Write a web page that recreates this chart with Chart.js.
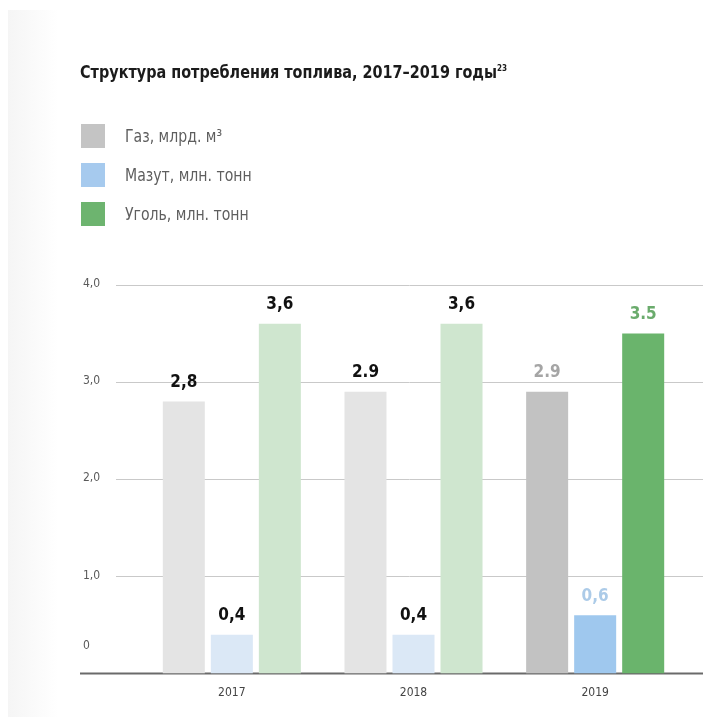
<!DOCTYPE html>
<html>
<head>
<meta charset="utf-8">
<script src="https://cdn.jsdelivr.net/npm/chart.js@4/dist/chart.umd.min.js"></script>
<style>
  body { margin: 0; width: 703px; height: 717px; overflow: hidden; position: relative; background: #fff;
         font-family: "DejaVu Sans Condensed", "DejaVu Sans", sans-serif; }
  .strip { position: absolute; left: 8px; top: 10px; bottom: 0; width: 50px;
           background: linear-gradient(to right, #f5f5f5, #fff); }
  canvas { position: absolute; left: 0; top: 0; }
  .title { position: absolute; left: 80px; top: 61px; margin: 0; font-size: 18px; font-weight: bold; color: #1b1b1b;
           transform: scaleX(0.89); transform-origin: left center; white-space: nowrap; }
  .title sup { font-size: 9px; }
  .legend { position: absolute; left: 81px; top: 124px; }
  .legend div { height: 39px; display: flex; align-items: flex-start; color: #5e5e5e; font-size: 17px; }
  .legend span.box { width: 24px; height: 24px; margin-right: 44px; }
  .legend span.txt { line-height: 24px; transform: scaleX(0.92); transform-origin: left center; white-space: nowrap;
                     margin-left: -24px; }
</style>
</head>
<body>
<div class="strip"></div>
<canvas id="chart" width="703" height="717"></canvas>
<div class="title">Структура потребления топлива, 2017–2019 годы<sup>23</sup></div>
<div class="legend" id="legend"></div>
<script>
// data
const years = ["2017", "2018", "2019"];
const seriesNames = ["Газ, млрд. м³", "Мазут, млн. тонн", "Уголь, млн. тонн"];
const gas = [2.8, 2.9, 2.9];
const mazut = [0.4, 0.4, 0.6];
const coal = [3.6, 3.6, 3.5];
const gasLabels = ["2,8", "2.9", "2.9"];
const mazutLabels = ["0,4", "0,4", "0,6"];
const coalLabels = ["3,6", "3,6", "3.5"];
const yTicks = [0, 1, 2, 3, 4];
const yTickLabels = ["0", "1,0", "2,0", "3,0", "4,0"];

const FONT = '"DejaVu Sans Condensed", "DejaVu Sans", sans-serif';
const legendColors = ["#c4c4c4", "#a6caee", "#6db46f"];

// legend
const lg = document.getElementById("legend");
seriesNames.forEach((n, i) => {
  const row = document.createElement("div");
  row.innerHTML = '<span class="box" style="background:' + legendColors[i] + '"></span><span class="txt">' + n + '</span>';
  lg.appendChild(row);
});

const linesPlugin = {
  id: "lines",
  beforeDatasetsDraw(chart) {
    const ctx = chart.ctx, y = chart.scales.y;
    ctx.save();
    ctx.strokeStyle = "#c9c9c9";
    ctx.lineWidth = 1;
    yTicks.forEach(v => {
      if (v === 0) return;
      const py = Math.round(y.getPixelForValue(v)) + 0.5;
      ctx.beginPath(); ctx.moveTo(116, py); ctx.lineTo(703, py); ctx.stroke();
    });
    ctx.strokeStyle = "#6a6a6a";
    ctx.lineWidth = 2;
    const p0 = y.getPixelForValue(0);
    ctx.beginPath(); ctx.moveTo(80, p0); ctx.lineTo(703, p0); ctx.stroke();
    // y tick labels
    ctx.fillStyle = "#5a5a5a";
    ctx.font = "12px " + FONT;
    ctx.textBaseline = "middle";
    ctx.textAlign = "left";
    yTicks.forEach((v, i) => {
      const off = v === 0 ? -28 : -1;
      ctx.fillText(yTickLabels[i], 83, y.getPixelForValue(v) + off);
    });
    ctx.restore();
  },
  afterDatasetsDraw(chart) {
    const ctx = chart.ctx;
    ctx.save();
    ctx.font = "bold 17px " + FONT;
    ctx.textAlign = "center";
    ctx.textBaseline = "middle";
    chart.data.datasets.forEach((ds, di) => {
      chart.getDatasetMeta(di).data.forEach((bar, i) => {
        ctx.fillStyle = ds.labelColors[i];
        ctx.fillText(ds.valueLabels[i], bar.x, bar.y - 19);
      });
    });
    ctx.restore();
  }
};

new Chart(document.getElementById("chart"), {
  type: "bar",
  data: {
    labels: years,
    datasets: [
      { label: seriesNames[0], data: gas, valueLabels: gasLabels,
        backgroundColor: ["#e4e4e4", "#e4e4e4", "#c2c2c2"],
        labelColors: ["#111", "#111", "#a5a5a5"] },
      { label: seriesNames[1], data: mazut, valueLabels: mazutLabels,
        backgroundColor: ["#dbe8f6", "#dbe8f6", "#9fc8ee"],
        labelColors: ["#111", "#111", "#accbe8"] },
      { label: seriesNames[2], data: coal, valueLabels: coalLabels,
        backgroundColor: ["#cfe6cf", "#cfe6cf", "#6ab46c"],
        labelColors: ["#111", "#111", "#6aab6c"] }
    ]
  },
  options: {
    responsive: false,
    devicePixelRatio: 1,
    animation: false,
    categoryPercentage: 0.793,
    barPercentage: 0.875,
    layout: { padding: { left: 141, right: 17, top: 285, bottom: 13 } },
    plugins: { legend: { display: false }, tooltip: { enabled: false } },
    scales: {
      y: { display: false, min: 0, max: 4 },
      x: {
        grid: { display: false },
        border: { display: false },
        ticks: { color: "#444", font: { family: FONT, size: 12 }, padding: 4 }
      }
    }
  },
  plugins: [linesPlugin]
});
</script>
</body>
</html>
